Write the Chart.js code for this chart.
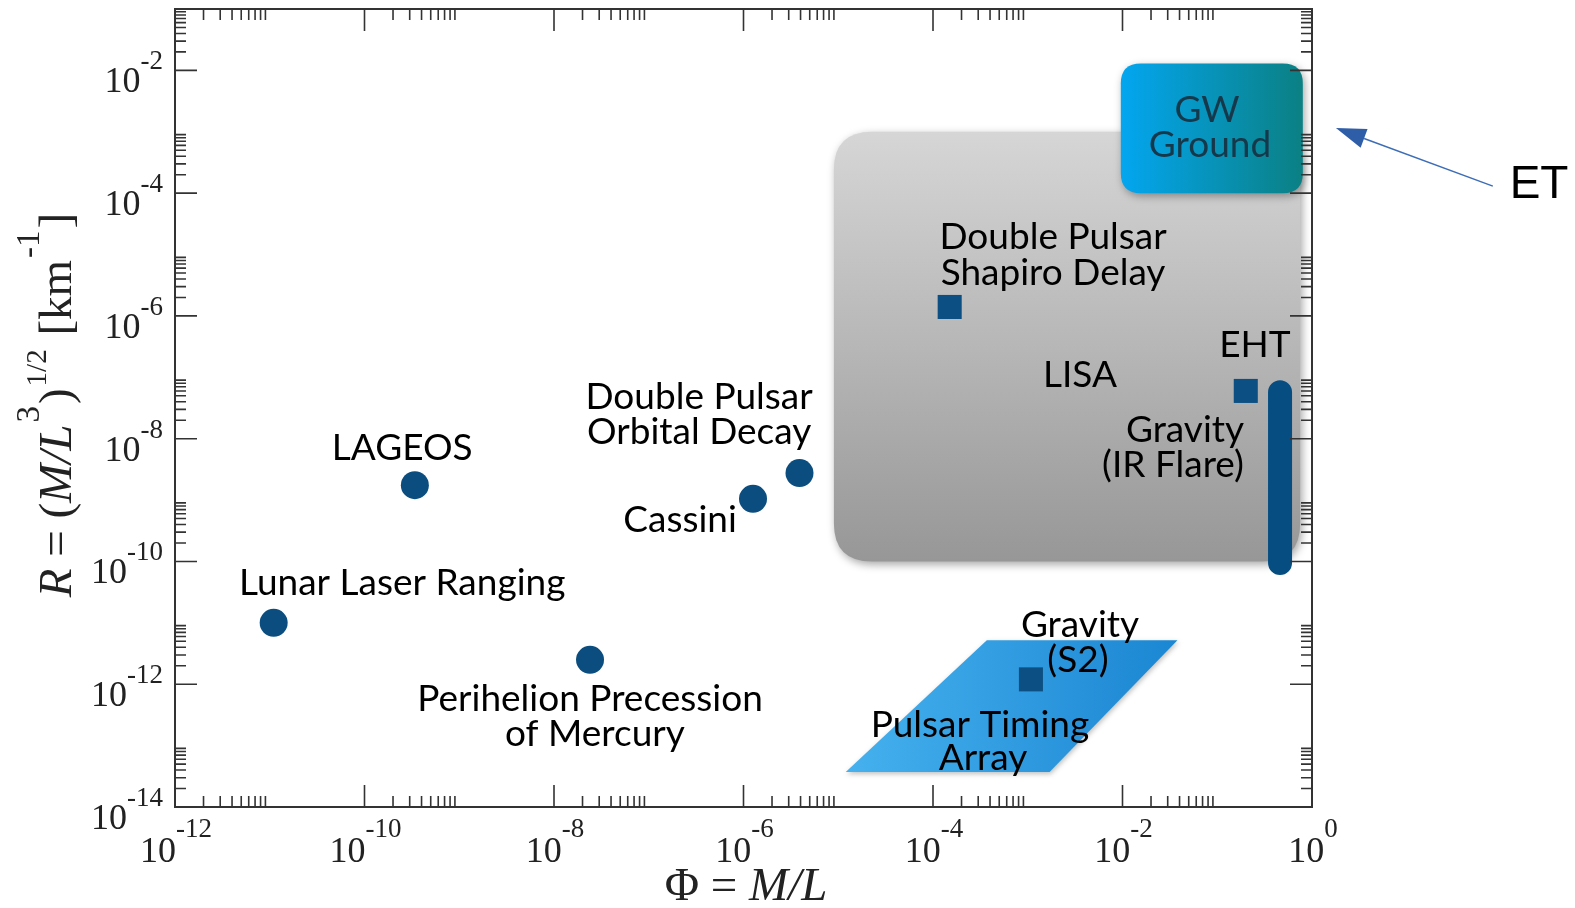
<!DOCTYPE html>
<html>
<head>
<meta charset="utf-8">
<script src="https://cdn.jsdelivr.net/npm/chart.js@4.4.1/dist/chart.umd.min.js"></script>
<style>
  html, body { margin: 0; padding: 0; background: #fff; overflow: hidden; }
  canvas { display: block; }
</style>
</head>
<body>
<canvas id="c" width="1575" height="908"></canvas>
<script>
/* Phi = M/L vs curvature R: tests of gravity, drawn on log-log axes. */
const X_EXP = [-12, -10, -8, -6, -4, -2, 0];
const Y_EXP = [-14, -12, -10, -8, -6, -4, -2];
const MINOR = [2, 3, 4, 5, 6, 7, 8, 9];

// circles (solar system + binary pulsar)
const circleNames = ["Lunar Laser Ranging", "LAGEOS", "Perihelion Precession of Mercury", "Cassini", "Double Pulsar Orbital Decay"];
const circlePhi = [1.1e-11, 3.4e-10, 2.4e-8, 1.26e-6, 3.9e-6];
const circleR = [1.0e-11, 1.75e-9, 2.5e-12, 1.05e-9, 2.75e-9];

// squares
const squareNames = ["Double Pulsar Shapiro Delay", "EHT", "Gravity (S2)"];
const squarePhi = [1.5e-4, 0.2, 1.08e-3];
const squareR = [1.4e-6, 6.0e-8, 1.2e-12];

// Gravity IR flare range
const flarePhi = [0.46, 0.46];
const flareR = [5.7e-8, 9.4e-11];

// regions
const lisaPhi = [9e-6, 0.75], lisaR = [1e-10, 1e-3];
const groundPhi = [9.6e-3, 0.8], groundR = [1e-4, 1.3e-2];
const ptaPhi = [1.2e-5, 3.7e-4, 3.8e-2, 1.7e-3];
const ptaR = [3.7e-14, 5.2e-12, 5.2e-12, 3.7e-14];

// text annotations placed in data space: [text, phi, R]
const notes = [
  ["Lunar Laser Ranging", 2.5e-10, 4.5e-11], ["LAGEOS", 2.5e-10, 7.0e-9],
  ["Perihelion Precession", 2.4e-8, 5.7e-13], ["of Mercury", 2.7e-8, 1.55e-13],
  ["Double Pulsar", 3.4e-7, 4.8e-8], ["Orbital Decay", 3.4e-7, 1.28e-8],
  ["Cassini", 2.14e-7, 4.7e-10],
  ["Double Pulsar", 1.85e-3, 1.92e-5], ["Shapiro Delay", 1.85e-3, 4.98e-6],
  ["LISA", 3.56e-3, 1.09e-7], ["EHT", 0.25, 3.34e-7],
  ["Gravity", 0.0457, 1.38e-8], ["(IR Flare)", 0.0341, 3.7e-9],
  ["Gravity", 3.56e-3, 9.2e-12], ["(S2)", 3.39e-3, 2.48e-12],
  ["Pulsar Timing", 3.13e-4, 2.17e-13], ["Array", 3.37e-4, 6.3e-14],
];
const groundNotes = [["GW", 0.078, 2.25e-3], ["Ground", 0.0837, 6.05e-4]];
const etNote = ["ET", 249, 1.35e-4];
const etArrow = { from: [81, 1.3e-4], to: [1.79, 1.15e-3] };

const DARK = "#0a4d7e";
const LBL_FONT = "37px Lato";
const SERIF = "'Liberation Serif', 'DejaVu Serif', serif";

function rrect(ctx, x, y, w, h, r) {
  ctx.beginPath();
  ctx.moveTo(x + r, y); ctx.lineTo(x + w - r, y); ctx.quadraticCurveTo(x + w, y, x + w, y + r);
  ctx.lineTo(x + w, y + h - r); ctx.quadraticCurveTo(x + w, y + h, x + w - r, y + h);
  ctx.lineTo(x + r, y + h); ctx.quadraticCurveTo(x, y + h, x, y + h - r);
  ctx.lineTo(x, y + r); ctx.quadraticCurveTo(x, y, x + r, y); ctx.closePath();
}

const regions = {
  id: "regions",
  beforeDatasetsDraw(chart) {
    const { ctx, scales: { x, y } } = chart;
    ctx.save();
    // LISA (grey)
    let x0 = x.getPixelForValue(lisaPhi[0]), x1 = x.getPixelForValue(lisaPhi[1]);
    let y0 = y.getPixelForValue(lisaR[1]), y1 = y.getPixelForValue(lisaR[0]);
    let g = ctx.createLinearGradient(0, y0, 0, y1);
    g.addColorStop(0, "#d6d6d6"); g.addColorStop(1, "#979797");
    ctx.shadowColor = "rgba(0,0,0,0.35)"; ctx.shadowBlur = 8; ctx.shadowOffsetX = 2; ctx.shadowOffsetY = 3;
    rrect(ctx, x0, y0, x1 - x0, y1 - y0, 38); ctx.fillStyle = g; ctx.fill();
    // GW ground
    x0 = x.getPixelForValue(groundPhi[0]); x1 = x.getPixelForValue(groundPhi[1]);
    y0 = y.getPixelForValue(groundR[1]); y1 = y.getPixelForValue(groundR[0]);
    g = ctx.createLinearGradient(x0, 0, x1, 0);
    g.addColorStop(0, "#03a6f0"); g.addColorStop(1, "#0b8083");
    rrect(ctx, x0, y0, x1 - x0, y1 - y0, 20); ctx.fillStyle = g; ctx.fill();
    // pulsar timing array
    const px = ptaPhi.map((v) => x.getPixelForValue(v)), py = ptaR.map((v) => y.getPixelForValue(v));
    g = ctx.createLinearGradient(Math.min(...px), 0, Math.max(...px), 0);
    g.addColorStop(0, "#46b1ee"); g.addColorStop(1, "#1b86d2");
    ctx.shadowBlur = 5; ctx.shadowOffsetX = 1; ctx.shadowOffsetY = 2; ctx.shadowColor = "rgba(0,0,0,0.25)";
    ctx.beginPath(); px.forEach((p, i) => (i ? ctx.lineTo(p, py[i]) : ctx.moveTo(p, py[i]))); ctx.closePath();
    ctx.fillStyle = g; ctx.fill();
    ctx.restore();
  },
};

function supLabel(ctx, base, sup, cx, baseY, supRaise, align) {
  ctx.font = "36px " + SERIF; const wb = ctx.measureText(base).width;
  ctx.font = "27px " + SERIF; const ws = ctx.measureText(sup).width;
  const left = align === "right" ? cx - wb - ws : cx - (wb + ws) / 2;
  ctx.textAlign = "left"; ctx.textBaseline = "alphabetic";
  ctx.font = "36px " + SERIF; ctx.fillText(base, left, baseY);
  ctx.font = "27px " + SERIF; ctx.fillText(sup, left + wb, baseY - supRaise);
}

const frame = {
  id: "frame",
  afterDatasetsDraw(chart) {
    const { ctx, scales: { x, y } } = chart;
    ctx.save();
    ctx.fillStyle = "#000"; ctx.textAlign = "center"; ctx.textBaseline = "middle";
    ctx.font = LBL_FONT;
    notes.forEach(([t, vx, vy]) => ctx.fillText(t, x.getPixelForValue(vx), y.getPixelForValue(vy)));
    ctx.fillStyle = "#15384a";
    groundNotes.forEach(([t, vx, vy]) => ctx.fillText(t, x.getPixelForValue(vx), y.getPixelForValue(vy)));
    ctx.restore();
  },
  afterDraw(chart) {
    const { ctx, chartArea: a, scales: { x, y } } = chart;
    ctx.save();
    ctx.strokeStyle = "#333"; ctx.lineWidth = 2;
    ctx.strokeRect(a.left, a.top, a.right - a.left, a.bottom - a.top);
    ctx.lineWidth = 1.6;
    ctx.beginPath();
    const tickX = (v, len) => { const p = x.getPixelForValue(v); ctx.moveTo(p, a.bottom); ctx.lineTo(p, a.bottom - len); ctx.moveTo(p, a.top); ctx.lineTo(p, a.top + len); };
    const tickY = (v, len) => { const p = y.getPixelForValue(v); ctx.moveTo(a.left, p); ctx.lineTo(a.left + len, p); ctx.moveTo(a.right, p); ctx.lineTo(a.right - len, p); };
    X_EXP.forEach((e) => { tickX(10 ** e, 22); if (e < 0) MINOR.forEach((m) => tickX(m * 10 ** e, 11)); });
    Y_EXP.forEach((e) => { tickY(10 ** e, 22); MINOR.forEach((m) => tickY(m * 10 ** e, 11)); });
    ctx.stroke();

    ctx.fillStyle = "#222";
    X_EXP.forEach((e) => supLabel(ctx, "10", String(e), x.getPixelForValue(10 ** e) + 1, a.bottom + 55, 25, "center"));
    Y_EXP.forEach((e) => supLabel(ctx, "10", String(e), a.left - 12, y.getPixelForValue(10 ** e) + 22, 23, "right"));

    // x title
    ctx.textBaseline = "alphabetic"; ctx.textAlign = "left";
    const xt = [["\u03A6 = ", "47px " + SERIF], ["M/L", "italic 47px " + SERIF]];
    let w = 0; xt.forEach(([t, f]) => { ctx.font = f; w += ctx.measureText(t).width; });
    let cx = 746 - w / 2;
    xt.forEach(([t, f]) => { ctx.font = f; ctx.fillText(t, cx, 900); cx += ctx.measureText(t).width; });

    // y title, rotated
    const yt = [["R", "italic 47px", 0], [" = (", "47px", 0], ["M/L", "italic 47px", 0], ["3", "33px", 32],
      [")", "47px", 0], ["1/2", "29px", 25], [" [km", "47px", 0], ["-1", "33px", 32], ["]", "47px", 0]];
    w = 0; yt.forEach(([t, f]) => { ctx.font = f + " " + SERIF; w += ctx.measureText(t).width + (/^\d|-/.test(t) ? 4 : 0); });
    ctx.translate(71, 405); ctx.rotate(-Math.PI / 2);
    cx = -w / 2;
    yt.forEach(([t, f, r]) => { ctx.font = f + " " + SERIF; const sp = /^\d|-/.test(t) ? 2 : 0; ctx.fillText(t, cx + sp, -r); cx += ctx.measureText(t).width + sp * 2; });
    ctx.setTransform(1, 0, 0, 1, 0, 0);

    // ET arrow
    const ax0 = x.getPixelForValue(etArrow.from[0]), ay0 = y.getPixelForValue(etArrow.from[1]);
    const ax1 = x.getPixelForValue(etArrow.to[0]), ay1 = y.getPixelForValue(etArrow.to[1]);
    const ang = Math.atan2(ay1 - ay0, ax1 - ax0), L = 30, hw = 10;
    const bx = ax1 - L * Math.cos(ang), by = ay1 - L * Math.sin(ang);
    ctx.strokeStyle = "#3d6db6"; ctx.lineWidth = 1.5;
    ctx.beginPath(); ctx.moveTo(ax0, ay0); ctx.lineTo(bx, by); ctx.stroke();
    ctx.fillStyle = "#2f5ea8";
    ctx.beginPath(); ctx.moveTo(ax1, ay1);
    ctx.lineTo(bx + hw * Math.sin(ang), by - hw * Math.cos(ang));
    ctx.lineTo(bx - hw * Math.sin(ang), by + hw * Math.cos(ang)); ctx.closePath(); ctx.fill();
    ctx.fillStyle = "#000"; ctx.font = "46px 'Liberation Sans', Arial, sans-serif"; ctx.textAlign = "center"; ctx.textBaseline = "middle";
    ctx.fillText(etNote[0], x.getPixelForValue(etNote[1]), y.getPixelForValue(etNote[2]));
    ctx.restore();
  },
};

const pts = (xs, ys) => xs.map((v, i) => ({ x: v, y: ys[i] }));

new Chart(document.getElementById("c"), {
  type: "scatter",
  data: {
    datasets: [
      { label: "circles", data: pts(circlePhi, circleR), pointStyle: "circle", pointRadius: 14, pointHoverRadius: 14, backgroundColor: DARK, borderWidth: 0 },
      { label: "squares", data: pts(squarePhi, squareR), pointStyle: "rect", pointRadius: 17, pointHoverRadius: 17, backgroundColor: "#0b4f83", borderWidth: 0 },
      { label: "Gravity (IR Flare)", type: "line", data: pts(flarePhi, flareR), borderColor: "#064e82", borderWidth: 24, borderCapStyle: "round", pointRadius: 0, fill: false },
    ],
  },
  options: {
    responsive: false, animation: false, events: [],
    layout: { autoPadding: false, padding: { left: 175, right: 263, top: 9, bottom: 101 } },
    plugins: { legend: { display: false }, tooltip: { enabled: false } },
    scales: {
      x: { type: "logarithmic", min: 1e-12, max: 1, ticks: { display: false }, grid: { display: false, drawTicks: false }, border: { display: false } },
      y: { type: "logarithmic", min: 1e-14, max: 1e-1, ticks: { display: false }, grid: { display: false, drawTicks: false }, border: { display: false } },
    },
  },
  plugins: [regions, frame],
});
</script>
</body>
</html>
